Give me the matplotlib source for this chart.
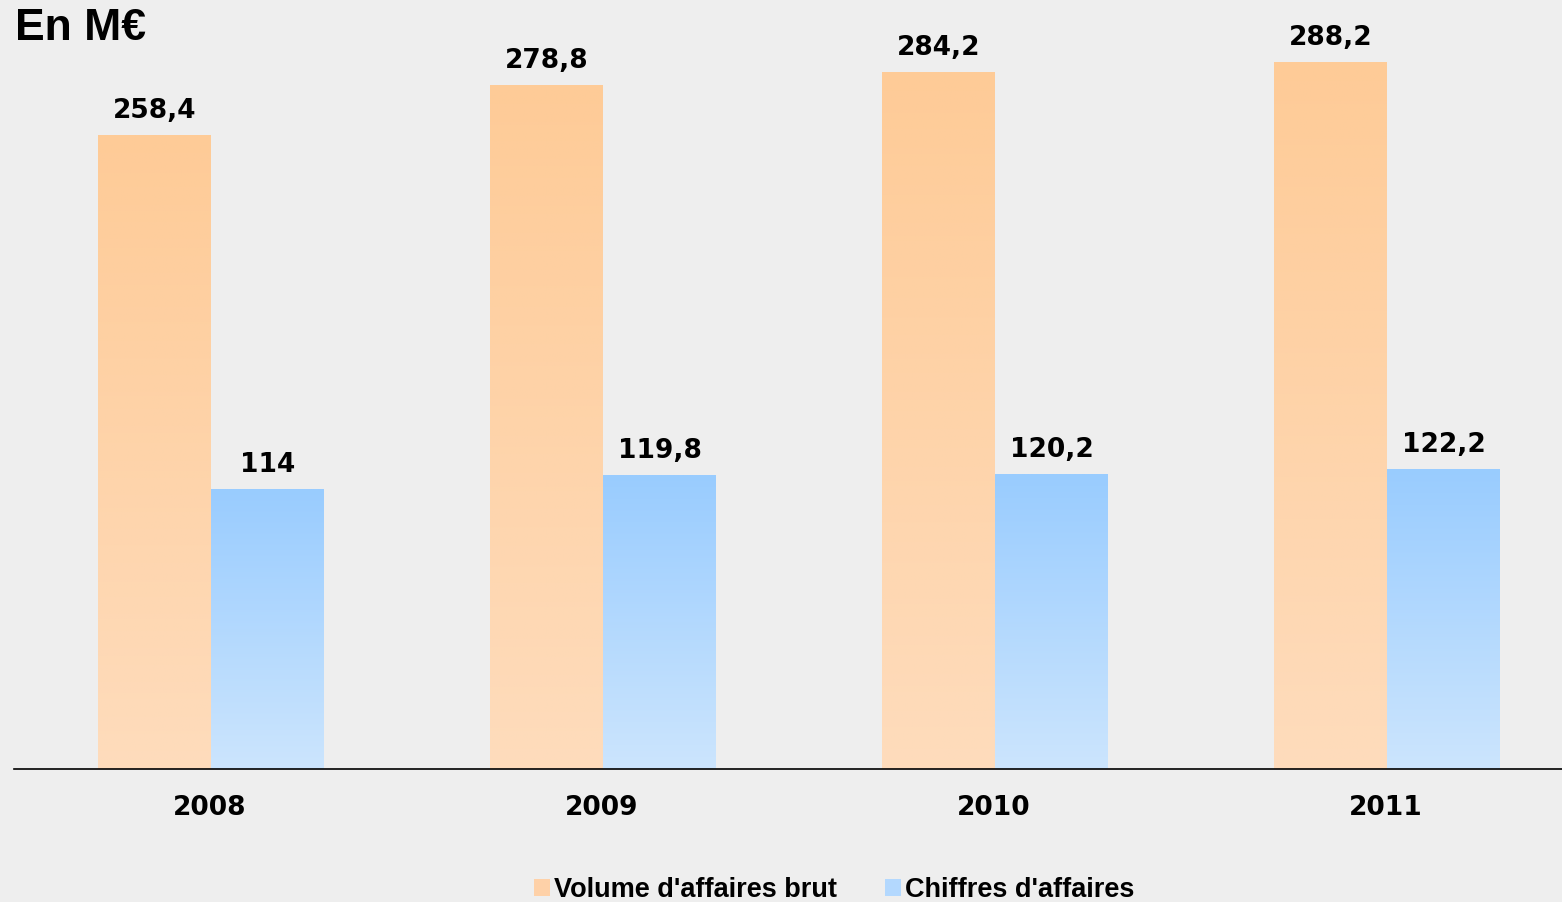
import matplotlib
matplotlib.use("Agg")
import matplotlib.pyplot as plt
import numpy as np
from matplotlib.colors import LinearSegmentedColormap
from matplotlib.patches import Rectangle

years = ["2008", "2009", "2010", "2011"]
volume_brut = [258.4, 278.8, 284.2, 288.2]
chiffres = [114, 119.8, 120.2, 122.2]
labels_volume = ["258,4", "278,8", "284,2", "288,2"]
labels_chiffres = ["114", "119,8", "120,2", "122,2"]
series_names = ["Volume d'affaires brut", "Chiffres d'affaires"]

plt.rcParams['font.family'] = ['Liberation Sans', 'DejaVu Sans']

W, H = 1562, 902
fig = plt.figure(figsize=(W / 100, H / 100), dpi=100)
bg = '#eeeeee'
fig.patch.set_facecolor(bg)

ax_left, ax_right, ax_bottom, ax_top = 14, 1562, 902 - 769, 902
ax = fig.add_axes([ax_left / W, ax_bottom / H, (ax_right - ax_left) / W, (ax_top - ax_bottom) / H])
ax.set_facecolor('none')
cat_px = 392
px_per_unit = 634 / 258.4

x = np.arange(len(years))
bw = 113 / cat_px

orange_cmap = LinearSegmentedColormap.from_list('o', ['#fedcbc', '#fecb97'])
blue_cmap = LinearSegmentedColormap.from_list('b', ['#cce5fd', '#99ccff'])

b1 = ax.bar(x - bw / 2 + 1 / cat_px, volume_brut, bw, color='none', edgecolor='none')
b2 = ax.bar(x + bw / 2 + 1 / cat_px, chiffres, bw, color='none', edgecolor='none')

grad = np.linspace(0, 1, 256).reshape(-1, 1)
for bars, cmap in ((b1, orange_cmap), (b2, blue_cmap)):
    for p in bars:
        x0, y0 = p.get_x(), p.get_y()
        w, h = p.get_width(), p.get_height()
        im = ax.imshow(grad, cmap=cmap, origin='lower', aspect='auto',
                       extent=(x0, x0 + w, y0, y0 + h), interpolation='bilinear', zorder=2)
        im.set_clip_path(p)

ax.set_xlim(-0.5, -0.5 + (ax_right - ax_left) / cat_px)
ax.set_ylim(0, (ax_top - ax_bottom) / px_per_unit)

num_font = {'family': 'DejaVu Sans', 'size': 19, 'weight': 'bold'}
for bars, labs in ((b1, labels_volume), (b2, labels_chiffres)):
    for p, lab in zip(bars, labs):
        ax.annotate(lab, (p.get_x() + p.get_width() / 2, p.get_height()),
                    xytext=(0, 8), textcoords='offset points', ha='center', va='bottom',
                    color='black', zorder=3, **num_font)

for s in ['top', 'right', 'left']:
    ax.spines[s].set_visible(False)
ax.spines['bottom'].set_color('black')
ax.spines['bottom'].set_linewidth(1.2)
ax.set_yticks([])
ax.set_xticks(x)
ax.set_xticklabels(years, **num_font)
ax.tick_params(axis='x', length=0, pad=19)

fig.text(15 / W, 1 - 28 / H, "En M€", fontsize=32, fontweight='bold', va='center', ha='left')

handles = [Rectangle((0, 0), 1, 1, facecolor='#fed1a8', edgecolor='none'),
           Rectangle((0, 0), 1, 1, facecolor='#b3d8fe', edgecolor='none')]
leg = fig.legend(handles, series_names, loc='center', bbox_to_anchor=(834 / W, 1 - 890 / H),
                 ncol=2, frameon=False, prop={'size': 19.5, 'weight': 'bold'},
                 handlelength=0.6, handleheight=0.6, handletextpad=0.15, columnspacing=1.75)

fig.savefig('out.png', dpi=100, facecolor=bg)
